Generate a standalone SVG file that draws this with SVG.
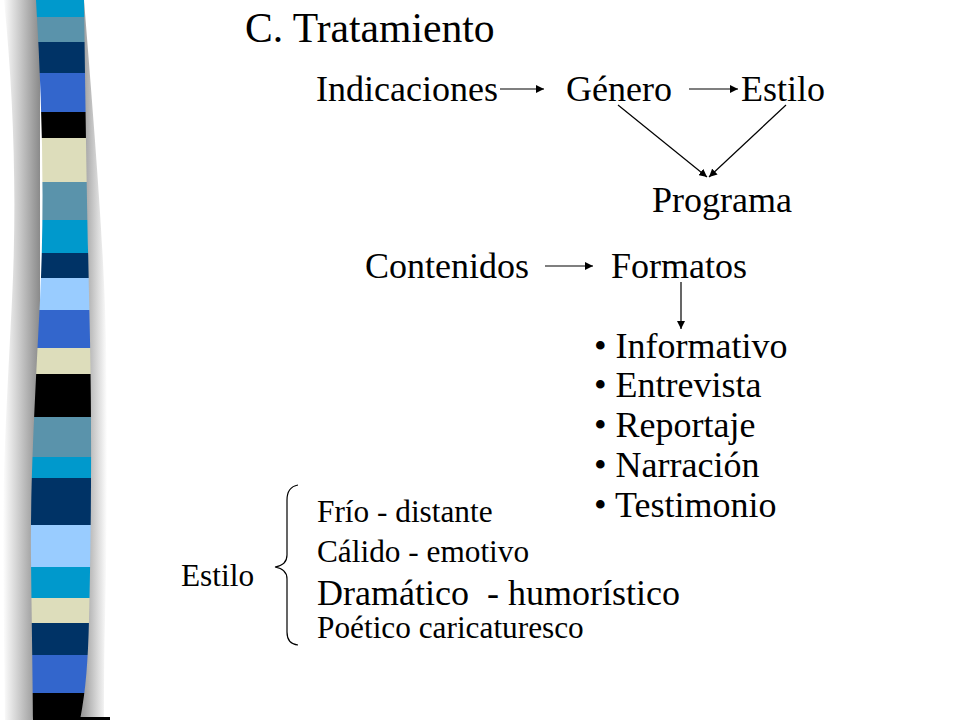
<svg xmlns="http://www.w3.org/2000/svg" width="960" height="720" viewBox="0 0 960 720">
<defs>
<style>
text{font-family:"Liberation Serif","Times New Roman",serif;fill:#000;white-space:pre}
.t{font-size:41.6px}
.b{font-size:36px}
.s{font-size:31.3px}
.c{stroke:#000;stroke-width:1.2;fill:none}
</style>
<marker id="ah" viewBox="0 0 10 10" refX="10" refY="5" markerWidth="8" markerHeight="8" markerUnits="userSpaceOnUse" orient="auto">
<path d="M0,0L10,5L0,10z" fill="#000"/>
</marker>
<linearGradient id="shL" x1="0" x2="1" y1="0" y2="0">
<stop offset="0" stop-color="#fff"/>
<stop offset="1" stop-color="#8a8a8a"/>
</linearGradient>
<linearGradient id="shR" x1="0" x2="1" y1="0" y2="0">
<stop offset="0" stop-color="#8a8a8a"/>
<stop offset="1" stop-color="#fff"/>
</linearGradient>
<clipPath id="strip">
<path d="M36,0 C42,100 45,200 40,300 C36,380 30,480 31,560 C32,640 33,700 33,720 L80,720 C86,690 88,660 89,620 C91,540 92,440 90,340 C88,250 86,150 84,0 Z"/>
</clipPath>
</defs>
<rect width="960" height="720" fill="#fff"/>
<g id="stripe">
<path d="M4,0 C14,100 17,200 12,300 C8,380 2,480 3,560 C4,640 5,700 5,720 L40,720 L40,0Z" fill="url(#shL)"/>
<path d="M78,0 L84,0 C96,150 104,250 106,340 C108,440 107,540 105,620 C104,660 104,690 104,720 L78,720Z" fill="url(#shR)"/>
<g clip-path="url(#strip)">
<rect x="20" y="0" width="90" height="17" fill="#0099cc"/>
<rect x="20" y="17" width="90" height="25" fill="#5a93ab"/>
<rect x="20" y="42" width="90" height="31" fill="#003366"/>
<rect x="20" y="73" width="90" height="39" fill="#3366cc"/>
<rect x="20" y="112" width="90" height="26" fill="#000"/>
<rect x="20" y="138" width="90" height="44" fill="#ddddbb"/>
<rect x="20" y="182" width="90" height="38" fill="#5a93ab"/>
<rect x="20" y="220" width="90" height="33" fill="#0099cc"/>
<rect x="20" y="253" width="90" height="25" fill="#003366"/>
<rect x="20" y="278" width="90" height="32" fill="#99ccff"/>
<rect x="20" y="310" width="90" height="38" fill="#3366cc"/>
<rect x="20" y="348" width="90" height="26" fill="#ddddbb"/>
<rect x="20" y="374" width="90" height="43" fill="#000"/>
<rect x="20" y="417" width="90" height="40" fill="#5a93ab"/>
<rect x="20" y="457" width="90" height="21" fill="#0099cc"/>
<rect x="20" y="478" width="90" height="47" fill="#003366"/>
<rect x="20" y="525" width="90" height="42" fill="#99ccff"/>
<rect x="20" y="567" width="90" height="31" fill="#0099cc"/>
<rect x="20" y="598" width="90" height="25" fill="#ddddbb"/>
<rect x="20" y="623" width="90" height="32" fill="#003366"/>
<rect x="20" y="655" width="90" height="38" fill="#3366cc"/>
<rect x="20" y="693" width="90" height="27" fill="#000"/>
</g>
<rect x="80" y="717" width="30" height="3" fill="#000"/>
</g>
<g id="title"><text class="t" x="245" y="42">C. Tratamiento</text></g>
<g id="n-indicaciones"><text class="b" x="316" y="101">Indicaciones</text></g>
<g id="n-genero"><text class="b" x="566" y="101">Género</text></g>
<g id="n-estilo"><text class="b" x="741" y="101">Estilo</text></g>
<g id="n-programa"><text class="b" x="652" y="212">Programa</text></g>
<g id="n-contenidos"><text class="b" x="365" y="278">Contenidos</text></g>
<g id="n-formatos"><text class="b" x="611" y="278">Formatos</text></g>
<g id="n-lista">
<text class="b" x="594" y="358">• Informativo</text>
<text class="b" x="594" y="397">• Entrevista</text>
<text class="b" x="594" y="437">• Reportaje</text>
<text class="b" x="594" y="477">• Narración</text>
<text class="b" x="594" y="517">• Testimonio</text>
</g>
<g id="n-estilo2"><text class="s" x="181" y="586">Estilo</text></g>
<g id="n-estilos">
<text class="s" x="317" y="522">Frío - distante</text>
<text class="s" x="317" y="562">Cálido - emotivo</text>
<text class="b" x="317" y="605">Dramático  - humorístico</text>
<text class="s" x="317" y="638">Poético caricaturesco</text>
</g>
<g id="connectors">
<line class="c" x1="500" y1="89" x2="544" y2="89" marker-end="url(#ah)"/>
<line class="c" x1="689" y1="89" x2="738" y2="89" marker-end="url(#ah)"/>
<line class="c" x1="618" y1="105" x2="707" y2="177" marker-end="url(#ah)"/>
<line class="c" x1="786" y1="105" x2="709" y2="177" marker-end="url(#ah)"/>
<line class="c" x1="545" y1="266" x2="593" y2="266" marker-end="url(#ah)"/>
<line class="c" x1="681" y1="282" x2="681" y2="329" marker-end="url(#ah)"/>
<path class="c" d="M298,485 Q287,487 287,500 L287,555 Q287,565 275,567 Q287,569 287,579 L287,632 Q287,644 298,645"/>
</g>
</svg>
